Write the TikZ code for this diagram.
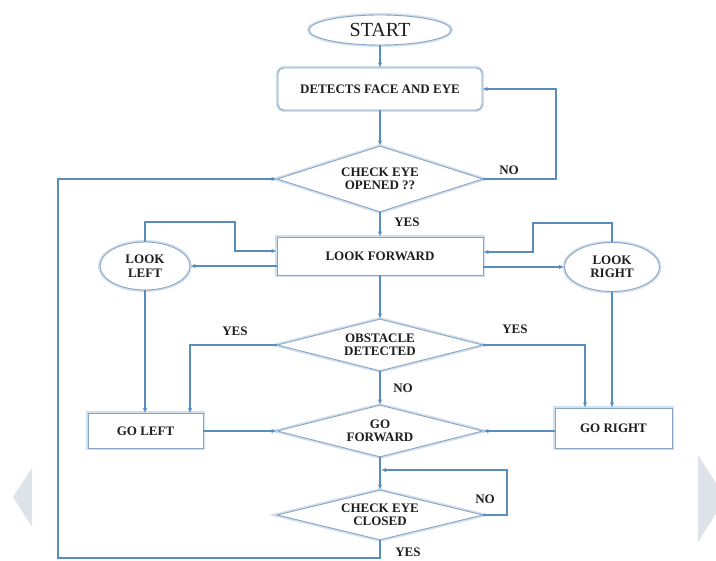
\documentclass[tikz,border=0pt]{standalone}
\usepackage{fontspec}
\setmainfont{Liberation Serif}
\usetikzlibrary{shapes.geometric,arrows.meta,calc}
\definecolor{linec}{RGB}{88,141,192}
\definecolor{shapec}{RGB}{135,165,196}
\definecolor{glowc}{RGB}{210,223,236}
\definecolor{textc}{RGB}{30,30,30}
\definecolor{navc}{RGB}{221,227,232}
\tikzset{
  lbl/.style={font=\fontsize{13}{13.5}\selectfont\bfseries, text=textc, align=center},
  shp/.style={draw=shapec, line width=0.9pt, fill=white, inner sep=0pt,
              preaction={draw=glowc, line width=4pt},
              font=\fontsize{13}{13.5}\selectfont\bfseries, text=textc, align=center},
  boxnode/.style={shp, rectangle},
  ellnode/.style={shp, ellipse},
  dianode/.style={shp, diamond, shape aspect=3},
  arr/.style={draw=linec, line width=1.5pt, -{Latex[length=5pt,width=4.5pt]}},
  ln/.style={draw=linec, line width=1.5pt}
}
\begin{document}
\begin{tikzpicture}[x=1pt,y=-1pt]
\useasboundingbox (0,0) rectangle (716,561);
% slide navigation arrows
\fill[navc] (32,468) -- (13,497) -- (32,527) -- cycle;
\fill[navc] (698,455) -- (716,483) -- (716,514) -- (698,542) -- cycle;

% nodes
\node[ellnode, minimum width=142pt, minimum height=30pt, font=\fontsize{20}{22}\selectfont] (start) at (380,30) {START};
\node[boxnode, rounded corners=6pt, minimum width=204pt, minimum height=42pt] (detect) at (380,89) {DETECTS FACE AND EYE};
\node[dianode, minimum width=206pt, minimum height=66pt] (open) at (380,179) {CHECK EYE\\OPENED ??};
\node[boxnode, minimum width=206pt, minimum height=38pt] (lookfwd) at (380,256) {LOOK FORWARD};
\node[ellnode, minimum width=90pt, minimum height=48pt] (lookleft) at (145,266) {LOOK\\LEFT};
\node[ellnode, minimum width=95pt, minimum height=49pt] (lookright) at (612,267) {LOOK\\RIGHT};
\node[dianode, minimum width=206pt, minimum height=52pt] (obst) at (380,345) {OBSTACLE\\DETECTED};
\node[boxnode, minimum width=115pt, minimum height=35pt] (goleft) at (145.5,431) {GO LEFT};
\node[boxnode, minimum width=117pt, minimum height=40pt] (goright) at (613.5,428) {GO RIGHT};
\node[dianode, minimum width=206pt, minimum height=52pt] (gofwd) at (380,431) {GO\\FORWARD};
\node[dianode, minimum width=206pt, minimum height=50pt] (closed) at (380,515) {CHECK EYE\\CLOSED};
\coordinate (merge) at (381,470);

% connectors
\draw[arr] (start) -- (detect);
\draw[arr] (detect) -- (open);
\draw[arr] (open.east) -- (556,179) |- (detect.east);
\node[lbl] (no1) at (509,170) {NO};
\draw[arr] (closed.south) |- (58,558) |- (open.west);
\node[lbl] (yes4) at (408,552.5) {YES};
\draw[arr] (open) -- (lookfwd);
\node[lbl] (yes1) at (407,222) {YES};
\draw[arr] (lookfwd.west |- lookleft.east) -- (lookleft.east);
\draw[arr] (lookleft.north) |- (235,222) |- ([yshift=5pt]lookfwd.west);
\draw[arr] (lookfwd.east |- lookright.west) -- (lookright.west);
\draw[arr] (lookright.north) |- (533,223) |- ([yshift=4pt]lookfwd.east);
\draw[arr] (lookfwd) -- (obst);
\draw[arr] (obst.west) -| ([xshift=44.5pt]goleft.north);
\node[lbl] (yes2) at (235,331) {YES};
\draw[arr] (lookleft.south) -- (lookleft.south |- goleft.north);
\draw[arr] (obst.east) -| ([xshift=-28.5pt]goright.north);
\node[lbl] (yes3) at (515,329) {YES};
\draw[arr] (lookright.south) -- (lookright.south |- goright.north);
\draw[arr] (obst) -- (gofwd);
\node[lbl] (no2) at (403,388) {NO};
\draw[arr] (goleft.east) -- (gofwd.west);
\draw[arr] (goright.west |- gofwd.east) -- (gofwd.east);
\draw[arr] (gofwd) -- (closed);
\draw[arr] (closed.east) -| (507,470) -- (merge);
\node[lbl] (no3) at (485,499) {NO};
\end{tikzpicture}
\end{document}
